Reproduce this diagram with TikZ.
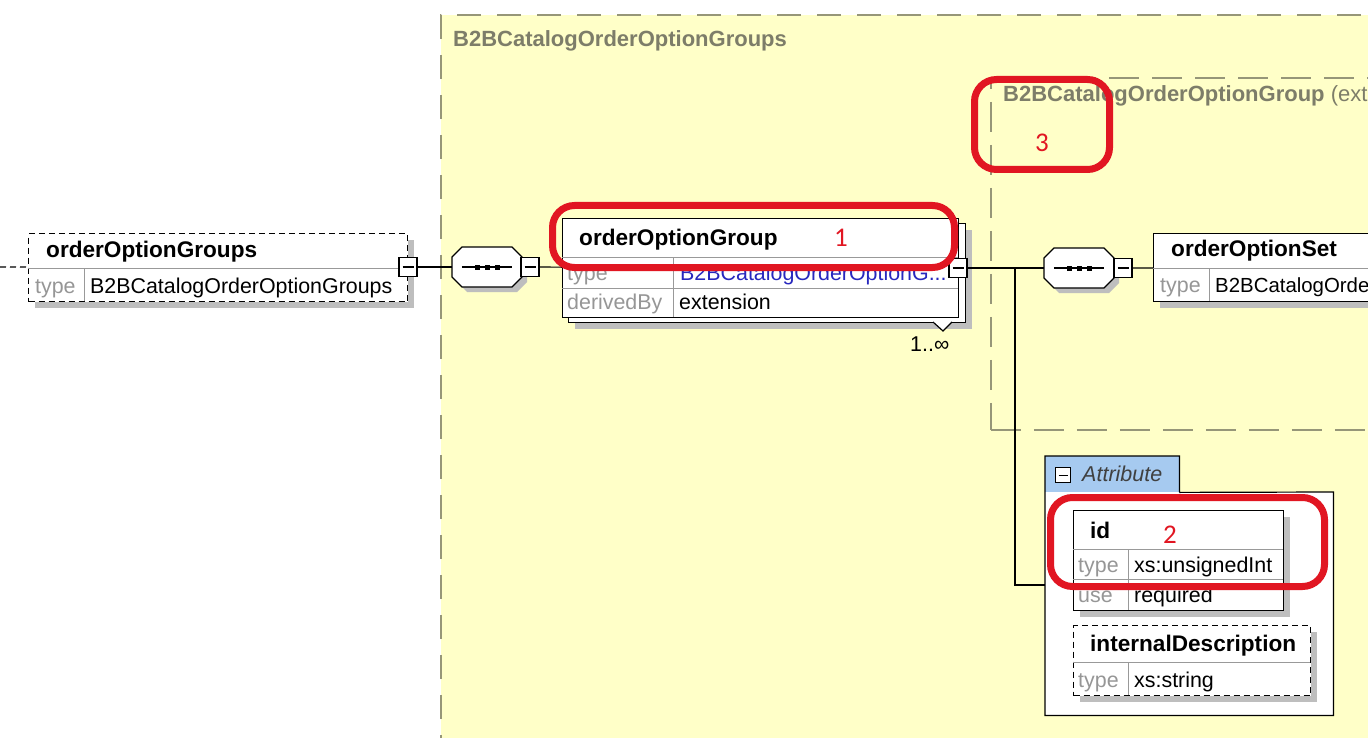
\documentclass[tikz,border=0pt]{standalone}
\usepackage{fontspec}
\setmainfont{Liberation Sans}
\newfontfamily\numfont{Carlito}
\usetikzlibrary{shadows}
\definecolor{xsdyellow}{RGB}{255,255,200}
\definecolor{xsddash}{RGB}{150,150,120}
\definecolor{xsdlabel}{RGB}{125,125,105}
\definecolor{xsdkey}{RGB}{150,150,150}
\definecolor{xsdblue}{RGB}{40,40,190}
\definecolor{xsdtab}{RGB}{166,202,240}
\definecolor{xsdshadow}{RGB}{190,190,190}
\definecolor{markred}{RGB}{225,22,34}
\newcommand{\minussign}{\rule[-0.6pt]{11pt}{1.2pt}}
\tikzstyle{typebox}=[draw=xsddash,fill=xsdyellow,line width=1.6pt,anchor=north west,inner sep=0pt]
\tikzstyle{typelabel}=[anchor=base west,inner sep=0pt,text=xsdlabel,font=\fontsize{22}{26}\selectfont\bfseries]
\tikzstyle{elemplain}=[draw,fill=white,line width=1.2pt,anchor=north west,inner sep=0pt]
\tikzstyle{elembox}=[elemplain,drop shadow={shadow xshift=6pt,shadow yshift=-6pt,fill=xsdshadow,opacity=1}]
\tikzstyle{optional}=[dash pattern=on 6pt off 4pt]
\tikzstyle{sep}=[draw=black!40,line width=1pt]
\tikzstyle{seqbox}=[minimum width=70pt,minimum height=40pt,inner sep=0pt]
\tikzstyle{minusbox}=[draw,fill=white,line width=1.2pt,minimum width=18pt,minimum height=19pt,inner sep=0pt]
\tikzstyle{conn}=[draw,line width=1.2pt]
\tikzstyle{headtext}=[anchor=base west,inner sep=0pt,font=\fontsize{22.6}{26}\selectfont\bfseries]
\tikzstyle{keytext}=[anchor=base west,inner sep=0pt,text=xsdkey,font=\fontsize{21.4}{25}\selectfont]
\tikzstyle{valtext}=[anchor=base west,inner sep=0pt,font=\fontsize{21.4}{25}\selectfont]
\tikzstyle{callout}=[draw=markred,line width=7pt,rounded corners=22pt,anchor=north west,inner sep=0pt]
\tikzstyle{callnum}=[text=markred,font=\numfont\fontsize{27}{30}\selectfont,inner sep=0pt]
\begin{document}
\begin{tikzpicture}[x=1pt,y=-1pt]
\useasboundingbox (0,0) rectangle (1368,738);
\clip (0,0) rectangle (1368,738);

% complex types
\node[typebox,dash pattern=on 24pt off 16pt,minimum width=960pt,minimum height=760pt] (groupsType) at (440,14) {};
\node[typelabel] (groupsTypeName) at (453,47) {B2BCatalogOrderOptionGroups};
\node[typebox,dash pattern=on 30pt off 13pt,minimum width=500pt,minimum height=352pt] (groupType) at (990,77) {};
\node[typelabel] (groupTypeName) at (1003,102) {B2BCatalogOrderOptionGroup \mdseries(ext};

% orderOptionGroups
\node[elembox,optional,minimum width=379pt,minimum height=68pt] (groups) at (28,233) {};
\draw[sep] (28,268) -- (407,268) (84,268) -- (84,301);
\node[headtext] (groupsName) at (46,258) {orderOptionGroups};
\node[keytext] (groupsKey) at (35,293) {type};
\node[valtext] (groupsVal) at (90,293) {B2BCatalogOrderOptionGroups};
\node[minusbox] (groupsMinus) at (408,267) {\minussign};

% sequences
\foreach \x/\y/\name in {487/267/seqA,1079/268/seqB} {
  \fill[xsdshadow] (\x+5,\y+5) +(-25,-20) -- +(25,-20) -- +(35,-10) -- +(35,10) -- +(25,20) -- +(-25,20) -- +(-35,10) -- +(-35,-10) -- cycle;
  \draw[fill=white,line width=1.2pt] (\x,\y) +(-25,-20) -- +(25,-20) -- +(35,-10) -- +(35,10) -- +(25,20) -- +(-25,20) -- +(-35,10) -- +(-35,-10) -- cycle;
  \node[seqbox] (\name) at (\x,\y) {};
  \draw[line width=1.2pt] ([xshift=10pt]\name.west) -- ([xshift=-10pt]\name.east);
  \foreach \dx in {-10,0,10}
    \fill ([xshift=\dx pt]\name.center) +(-2.5,-2.5) rectangle +(2.5,2.5);
}
\foreach \pos/\name in {{(530,267)/seqAMinus},{(1123,268)/seqBMinus}}
  \node[minusbox] (\name) at \pos {\minussign};

% orderOptionGroup (1..n)
\node[elembox,minimum width=397pt,minimum height=99pt] (groupBack) at (568,223) {};
\draw[fill=white,line width=1.2pt] (933,322) -- (943,331) -- (952,322);
\node[elemplain,minimum width=396pt,minimum height=99pt] (group) at (562,218) {};
\draw[sep] (562,257) -- (958,257) (562,288) -- (958,288) (673,257) -- (673,317);
\node[headtext] (groupName) at (579,245) {orderOptionGroup};
\node[keytext] (groupKeyA) at (567,280) {type};
\node[valtext,text=xsdblue] (groupValA) at (680,280) {B2BCatalogOrderOptionG...};
\node[keytext] (groupKeyB) at (567,309) {derivedBy};
\node[valtext] (groupValB) at (679,309) {extension};
\node[valtext] (groupCount) at (910,351) {1..∞};
\node[minusbox] (groupMinus) at (958,268) {\minussign};

% orderOptionSet
\node[elembox,minimum width=300pt,minimum height=68pt] (optionSet) at (1153,233) {};
\draw[sep] (1153,268) -- (1453,268) (1209,268) -- (1209,301);
\node[headtext] (optionSetName) at (1171,257) {orderOptionSet};
\node[keytext] (optionSetKey) at (1160,292) {type};
\node[valtext,font=\fontsize{20.4}{25}\selectfont] (optionSetVal) at (1215,292) {B2BCatalogOrde};

% attributes
\node[fill=white,anchor=north west,minimum width=288pt,minimum height=223pt,inner sep=0pt] (attrBox) at (1045,492) {};
\node[fill=xsdtab,anchor=north west,minimum width=134pt,minimum height=36pt,inner sep=0pt] (attrTab) at (1045,456) {};
\draw[line width=1.2pt] (attrTab.south east) -- (attrBox.north east) -- (attrBox.south east) -- (attrBox.south west) -- (attrTab.north west) -- (attrTab.north east) -- (attrTab.south east);
\node[minusbox,minimum width=15pt,minimum height=15pt] (attrMinus) at (1063,475) {\rule[-0.5pt]{9pt}{1pt}};
\node[valtext,text=black!75,font=\fontsize{21.5}{25}\selectfont\itshape] (attrName) at (1082,481) {Attribute};

\node[elembox,minimum width=210pt,minimum height=100pt] (id) at (1073,510) {};
\draw[sep] (1073,549) -- (1283,549) (1073,579) -- (1283,579) (1128,549) -- (1128,610);
\node[headtext] (idName) at (1090,538) {id};
\node[keytext] (idKeyA) at (1078,572) {type};
\node[valtext] (idValA) at (1134,572) {xs:unsignedInt};
\node[keytext] (idKeyB) at (1078,602) {use};
\node[valtext] (idValB) at (1134,602) {required};

\node[elembox,optional,minimum width=237pt,minimum height=70pt] (intDesc) at (1073,625) {};
\draw[sep] (1073,662) -- (1310,662) (1128,662) -- (1128,695);
\node[headtext] (intDescName) at (1090,651) {internalDescription};
\node[keytext] (intDescKey) at (1078,687) {type};
\node[valtext] (intDescVal) at (1134,687) {xs:string};

% connectors
\coordinate (entry) at (0,267);
\coordinate (branch) at (1015,268);
\coordinate (attrIn) at (1045,585);
\draw[conn,optional] (entry) -- (groups);
\draw[conn] (groupsMinus) -- (seqA);
\draw[conn] (seqAMinus) -- (group);
\draw[conn] (groupMinus) -- (seqB);
\draw[conn] (seqBMinus) -- (optionSet);
\draw[conn] (branch) |- (attrIn);

% red marks
\node[callout,minimum width=402pt,minimum height=62pt] (callA) at (549,202) {};
\node[callnum] (callANum) at (841,238) {1};
\node[callout,minimum width=274pt,minimum height=89pt] (callB) at (1047,494) {};
\node[callnum] (callBNum) at (1170,535) {2};
\node[callout,minimum width=135pt,minimum height=90pt] (callC) at (971,76) {};
\node[callnum] (callCNum) at (1042,143) {3};
\end{tikzpicture}
\end{document}
